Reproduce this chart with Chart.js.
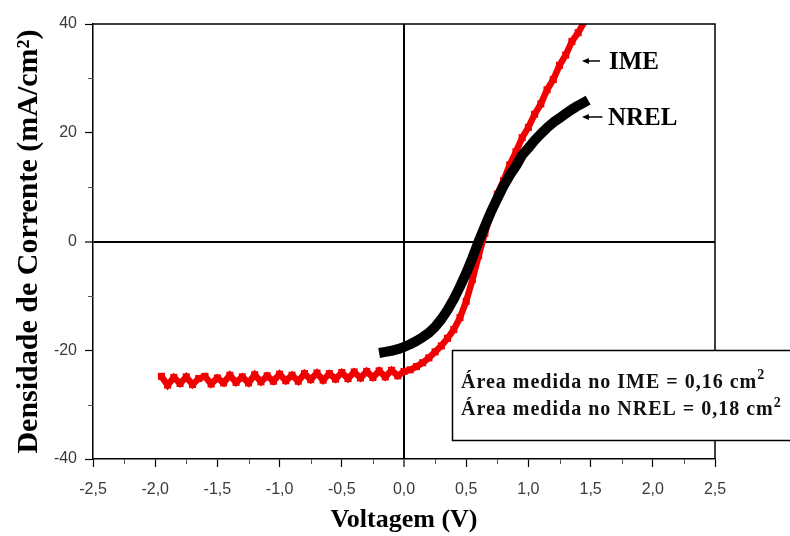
<!DOCTYPE html>
<html>
<head>
<meta charset="utf-8">
<script src="https://cdn.jsdelivr.net/npm/chart.js@4/dist/chart.umd.min.js"></script>
<style>
  html, body { margin: 0; padding: 0; background: #fff; }
  #wrap { width: 790px; height: 536px; position: relative; }
</style>
</head>
<body>
<div id="wrap"><canvas id="jv"></canvas></div>
<script>
// Current density vs. voltage of the same cell, measured at IME and at NREL
const imeVoltage = [-1.95,-1.90,-1.85,-1.80,-1.75,-1.70,-1.65,-1.60,-1.55,-1.50,-1.45,-1.40,-1.35,-1.30,-1.25,-1.20,-1.15,-1.10,-1.05,-1.00,
  -0.95,-0.90,-0.85,-0.80,-0.75,-0.70,-0.65,-0.60,-0.55,-0.50,-0.45,-0.40,-0.35,-0.30,-0.25,-0.20,-0.15,-0.10,-0.05,0.00,
  0.05,0.10,0.15,0.20,0.25,0.30,0.35,0.40,0.45,0.50,0.55,0.60,0.65,0.70,0.75,0.80,0.85,0.90,0.95,1.00,
  1.05,1.10,1.15,1.20,1.25,1.30,1.35,1.40,1.46];
const imeCurrent = [-24.8,-26.4,-25.0,-26.1,-24.9,-26.3,-25.2,-24.8,-26.2,-25.1,-26.0,-24.6,-25.9,-24.9,-26.0,-24.5,-25.8,-24.7,-25.7,-24.4,
  -25.6,-24.6,-25.7,-24.3,-25.4,-24.2,-25.5,-24.3,-25.3,-24.1,-25.2,-24.0,-25.1,-23.9,-25.0,-23.8,-24.9,-23.7,-24.7,-23.9,
  -23.6,-23.0,-22.3,-21.4,-20.3,-19.2,-17.8,-16.2,-14.0,-11.0,-7.0,-2.6,1.5,5.3,8.7,11.2,14.1,16.5,19.1,21.0,
  23.4,25.3,27.9,29.8,32.4,34.3,36.8,38.4,40.8];

const nrelVoltage = [-0.20,-0.15,-0.10,-0.05,0.00,0.05,0.10,0.15,0.20,0.25,0.30,0.35,0.40,0.45,0.50,0.55,0.60,0.65,
  0.70,0.75,0.80,0.85,0.90,0.95,1.00,1.05,1.10,1.15,1.20,1.25,1.30,1.35,1.40,1.45,1.48];
const nrelCurrent = [-20.5,-20.3,-20.1,-19.8,-19.4,-18.9,-18.3,-17.6,-16.8,-15.7,-14.3,-12.6,-10.6,-8.3,-5.8,-3.0,0.0,2.8,
  5.5,7.9,10.2,12.2,13.9,15.9,17.2,18.6,19.8,20.9,21.9,22.7,23.5,24.3,25.0,25.6,26.0];

const xTickValues = [-2.5,-2.0,-1.5,-1.0,-0.5,0.0,0.5,1.0,1.5,2.0,2.5];
const xTickLabels = ['-2,5','-2,0','-1,5','-1,0','-0,5','0,0','0,5','1,0','1,5','2,0','2,5'];
const xMinorTicks = [-2.25,-1.75,-1.25,-0.75,-0.25,0.25,0.75,1.25,1.75,2.25];
const yTickValues = [-40,-20,0,20,40];
const yTickLabels = ['-40','-20','0','20','40'];
const yMinorTicks = [-30,-10,10,30];

const seriesNames = ['IME','NREL'];
const areaNotes = ['Área medida no IME = 0,16 cm²', 'Área medida no NREL = 0,18 cm²'];
const xTitle = 'Voltagem (V)';
const yTitle = 'Densidade de Corrente (mA/cm²)';

const serif = '"Liberation Serif", "Times New Roman", serif';
const sans = '"Liberation Sans", Arial, sans-serif';

const toPoints = (xs, ys) => xs.map((v, i) => ({ x: v, y: ys[i] }));

// Frame, minor ticks, curve labels and the area box
const decorations = {
  id: 'decorations',
  afterDraw(chart) {
    const { ctx, chartArea: a, scales: { x, y } } = chart;
    ctx.save();
    ctx.strokeStyle = '#000';

    // top and right edges of the plot frame
    ctx.lineWidth = 1.5;
    ctx.beginPath();
    ctx.moveTo(a.left, a.top); ctx.lineTo(a.right, a.top); ctx.lineTo(a.right, a.bottom);
    ctx.stroke();

    // short minor ticks
    ctx.lineWidth = 1;
    ctx.strokeStyle = '#555';
    ctx.beginPath();
    xMinorTicks.forEach(v => { const p = Math.round(x.getPixelForValue(v)) + 0.5; ctx.moveTo(p, a.bottom); ctx.lineTo(p, a.bottom + 5); });
    yMinorTicks.forEach(v => { const p = Math.round(y.getPixelForValue(v)) + 0.5; ctx.moveTo(a.left - 5, p); ctx.lineTo(a.left, p); });
    ctx.stroke();

    // curve labels with small arrows
    ctx.strokeStyle = '#000';
    ctx.fillStyle = '#000';
    const arrow = (x0, x1, yv) => {
      const px0 = x.getPixelForValue(x0), px1 = x.getPixelForValue(x1), py = y.getPixelForValue(yv);
      ctx.lineWidth = 1.5;
      ctx.beginPath(); ctx.moveTo(px1, py); ctx.lineTo(px0 + 4, py); ctx.stroke();
      ctx.beginPath(); ctx.moveTo(px0, py); ctx.lineTo(px0 + 7, py - 3); ctx.lineTo(px0 + 7, py + 3); ctx.closePath(); ctx.fill();
    };
    arrow(1.43, 1.575, 33.2);
    arrow(1.43, 1.595, 22.9);
    ctx.font = 'bold 25px ' + serif;
    ctx.textAlign = 'left';
    ctx.textBaseline = 'middle';
    ctx.fillText(seriesNames[0], x.getPixelForValue(1.648), y.getPixelForValue(33.0));
    ctx.fillText(seriesNames[1], x.getPixelForValue(1.64), y.getPixelForValue(22.6));

    // measured-area box
    const bl = Math.round(x.getPixelForValue(0.386)) + 0.5;
    const bt = Math.round(y.getPixelForValue(-20)) + 0.5;
    const bb = Math.round(y.getPixelForValue(-36.5)) + 0.5;
    const br = chart.width + 10;
    ctx.fillStyle = '#fff';
    ctx.fillRect(bl, bt, br - bl, bb - bt);
    ctx.lineWidth = 1.5;
    ctx.strokeRect(bl, bt, br - bl, bb - bt);
    ctx.fillStyle = '#111';
    if ('letterSpacing' in ctx) ctx.letterSpacing = '1px';
    // the unit's exponent is set as a raised, smaller "2"
    const note = (text, xv, yv) => {
      const [main] = text.split('²');
      const px = x.getPixelForValue(xv), py = y.getPixelForValue(yv);
      ctx.font = 'bold 20px ' + serif;
      ctx.fillText(main, px, py);
      const w = ctx.measureText(main).width;
      ctx.font = 'bold 14px ' + serif;
      ctx.fillText('2', px + w, py - 7);
    };
    note(areaNotes[0], 0.458, -26.0);
    note(areaNotes[1], 0.458, -31.0);
    ctx.restore();
  }
};

const atZero = c => c.tick && Math.abs(c.tick.value) < 1e-9;

new Chart(document.getElementById('jv'), {
  type: 'line',
  data: {
    datasets: [
      {
        label: seriesNames[1],
        data: toPoints(nrelVoltage, nrelCurrent),
        borderColor: '#000',
        borderWidth: 10,
        borderCapStyle: 'butt',
        borderJoinStyle: 'round',
        pointRadius: 0,
        tension: 0
      },
      {
        label: seriesNames[0],
        data: toPoints(imeVoltage, imeCurrent),
        borderColor: '#f00000',
        borderWidth: 6.5,
        pointStyle: 'rect',
        pointRadius: 5,
        pointBorderWidth: 0,
        pointBackgroundColor: '#f00000',
        tension: 0
      }
    ]
  },
  options: {
    responsive: true,
    maintainAspectRatio: false,
    animation: false,
    events: [],
    layout: { padding: { top: 24, right: 75, bottom: 0, left: 0 } },
    plugins: { legend: { display: false }, tooltip: { enabled: false } },
    scales: {
      x: {
        type: 'linear',
        min: -2.5, max: 2.5,
        afterBuildTicks: s => { s.ticks = xTickValues.map(v => ({ value: v })); },
        afterFit: s => { s.height = 77; },
        ticks: {
          autoSkip: false, maxRotation: 0, padding: 13,
          color: '#3a3a3a', font: { family: sans, size: 16 },
          callback: (v, i) => xTickLabels[i]
        },
        grid: {
          drawOnChartArea: true,
          color: c => atZero(c) ? '#000' : 'rgba(0,0,0,0)',
          lineWidth: c => atZero(c) ? 2 : 1,
          tickColor: '#000', tickWidth: 1.2, tickLength: 8
        },
        border: { display: true, color: '#000', width: 1.5 },
        title: {
          display: true, text: xTitle, color: '#000',
          font: { family: serif, size: 26, weight: 'bold' },
          padding: { top: 0, bottom: 0 }
        }
      },
      y: {
        type: 'linear',
        min: -40, max: 40,
        afterBuildTicks: s => { s.ticks = yTickValues.map(v => ({ value: v })); },
        afterFit: s => { s.width = 93; },
        ticks: {
          autoSkip: false, padding: 8,
          color: '#3a3a3a', font: { family: sans, size: 16 },
          callback: (v, i) => yTickLabels[i]
        },
        grid: {
          drawOnChartArea: true,
          color: c => atZero(c) ? '#000' : 'rgba(0,0,0,0)',
          lineWidth: c => atZero(c) ? 2 : 1,
          tickColor: '#000', tickWidth: 1.2, tickLength: 8
        },
        border: { display: true, color: '#000', width: 1.5 },
        title: {
          display: true, text: yTitle, color: '#000',
          font: { family: serif, size: 30, weight: 'bold' },
          padding: { top: 11, bottom: 0 }
        }
      }
    }
  },
  plugins: [decorations]
});
</script>
</body>
</html>
